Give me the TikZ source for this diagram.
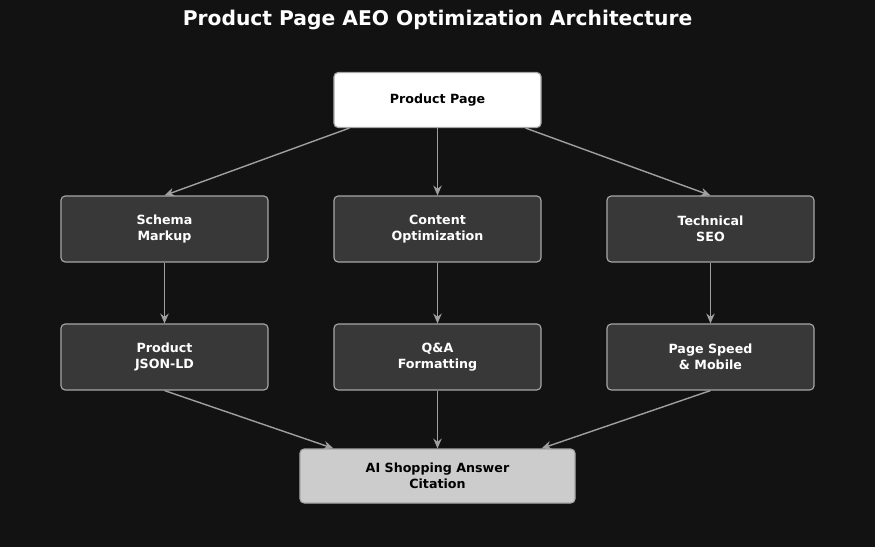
\documentclass[tikz,border=0pt]{standalone}
\usepackage{fontspec}
\setmainfont{DejaVu Sans}
\usetikzlibrary{positioning,arrows.meta}
\begin{document}
\begin{tikzpicture}[x=0.025cm,y=-0.025cm,
    box/.style={draw=gray!70, rounded corners=3pt, line width=0.8pt, fill=black!78,
      text=white, font=\bfseries\small, align=center,
      minimum width=5.175cm, minimum height=1.65cm},
    arr/.style={-{Stealth[length=7pt,width=6pt]}, draw=gray!75, line width=1pt}]
    \fill[black!93] (0,0) rectangle (875,547);
    \useasboundingbox (0,0) rectangle (875,547);

    \node[text=white, font=\bfseries\Large] (title) at (437.5,20) {Product Page AEO Optimization Architecture};

    \node[box, fill=white, text=black, minimum height=1.375cm] (page) at (437.5,100) {Product Page};

    \node[box] (schema) at (164.5,229) {Schema\\Markup};
    \node[box] (content) at (437.5,229) {Content\\Optimization};
    \node[box] (tech) at (710.5,229) {Technical\\SEO};

    \node[box] (json) at (164.5,357) {Product\\JSON-LD};
    \node[box] (qa) at (437.5,357) {Q\&A\\Formatting};
    \node[box] (speed) at (710.5,357) {Page Speed\\\& Mobile};

    \node[box, fill=gray!40, text=black, minimum width=6.875cm, minimum height=1.35cm] (ai) at (437.5,476) {AI Shopping Answer\\Citation};

    % top level
    \draw[arr] ([xshift=-2.2cm]page.south) -- (schema.north);
    \draw[arr] (page.south) -- (content.north);
    \draw[arr] ([xshift=2.2cm]page.south) -- (tech.north);

    % middle
    \draw[arr] (schema) -- (json);
    \draw[arr] (content) -- (qa);
    \draw[arr] (tech) -- (speed);

    % bottom
    \draw[arr] (json.south) -- ([xshift=-2.6cm]ai.north);
    \draw[arr] (qa) -- (ai);
    \draw[arr] (speed.south) -- ([xshift=2.6cm]ai.north);
\end{tikzpicture}
\end{document}
